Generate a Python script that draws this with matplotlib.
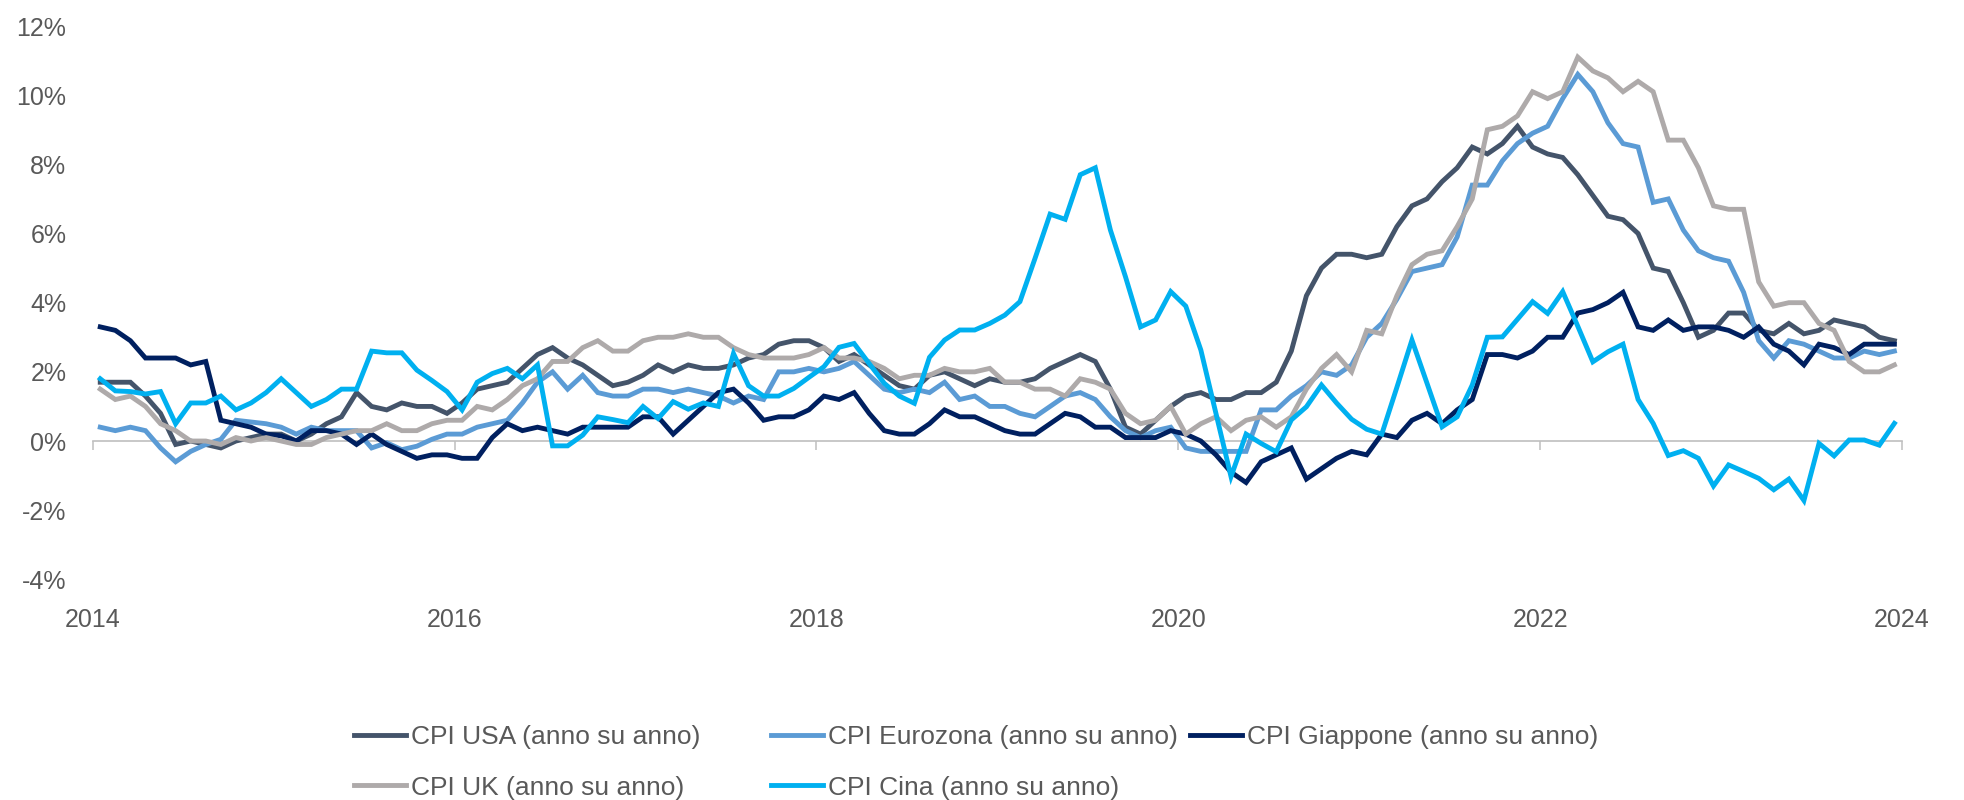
import numpy as np
import matplotlib
matplotlib.use("Agg")
import matplotlib.pyplot as plt

# monthly y/y inflation, Aug 2014 .. Jul 2024 (120 points)
usa = [1.7, 1.7, 1.7, 1.3, 0.8,
       -0.1, 0.0, -0.1, -0.2, 0.0, 0.1, 0.2, 0.2, 0.0, 0.2, 0.5, 0.7,
       1.4, 1.0, 0.9, 1.1, 1.0, 1.0, 0.8, 1.1, 1.5, 1.6, 1.7, 2.1,
       2.5, 2.7, 2.4, 2.2, 1.9, 1.6, 1.7, 1.9, 2.2, 2.0, 2.2, 2.1,
       2.1, 2.2, 2.4, 2.5, 2.8, 2.9, 2.9, 2.7, 2.3, 2.5, 2.2, 1.9,
       1.6, 1.5, 1.9, 2.0, 1.8, 1.6, 1.8, 1.7, 1.7, 1.8, 2.1, 2.3,
       2.5, 2.3, 1.5, 0.4, 0.2, 0.6, 1.0, 1.3, 1.4, 1.2, 1.2, 1.4,
       1.4, 1.7, 2.6, 4.2, 5.0, 5.4, 5.4, 5.3, 5.4, 6.2, 6.8, 7.0,
       7.5, 7.9, 8.5, 8.3, 8.6, 9.1, 8.5, 8.3, 8.2, 7.7, 7.1, 6.5,
       6.4, 6.0, 5.0, 4.9, 4.0, 3.0, 3.2, 3.7, 3.7, 3.2, 3.1, 3.4,
       3.1, 3.2, 3.5, 3.4, 3.3, 3.0, 2.9]

eurozona = [0.4, 0.3, 0.4, 0.3, -0.2,
            -0.6, -0.3, -0.1, 0.05, 0.6, 0.55, 0.5, 0.4, 0.2, 0.4, 0.3, 0.3,
            0.3, -0.2, -0.05, -0.25, -0.15, 0.05, 0.2, 0.2, 0.4, 0.5, 0.6, 1.1,
            1.7, 2.0, 1.5, 1.9, 1.4, 1.3, 1.3, 1.5, 1.5, 1.4, 1.5, 1.4,
            1.3, 1.1, 1.3, 1.2, 2.0, 2.0, 2.1, 2.0, 2.1, 2.3, 1.9, 1.5,
            1.4, 1.5, 1.4, 1.7, 1.2, 1.3, 1.0, 1.0, 0.8, 0.7, 1.0, 1.3,
            1.4, 1.2, 0.7, 0.3, 0.1, 0.3, 0.4, -0.2, -0.3, -0.3, -0.3, -0.3,
            0.9, 0.9, 1.3, 1.6, 2.0, 1.9, 2.2, 3.0, 3.4, 4.1, 4.9, 5.0,
            5.1, 5.9, 7.4, 7.4, 8.1, 8.6, 8.9, 9.1, 9.9, 10.6, 10.1, 9.2,
            8.6, 8.5, 6.9, 7.0, 6.1, 5.5, 5.3, 5.2, 4.3, 2.9, 2.4, 2.9,
            2.8, 2.6, 2.4, 2.4, 2.6, 2.5, 2.6]

giappone = [3.3, 3.2, 2.9, 2.4, 2.4,
            2.4, 2.2, 2.3, 0.6, 0.5, 0.4, 0.2, 0.15, 0.0, 0.3, 0.3, 0.2,
            -0.1, 0.2, -0.1, -0.3, -0.5, -0.4, -0.4, -0.5, -0.5, 0.1, 0.5, 0.3,
            0.4, 0.3, 0.2, 0.4, 0.4, 0.4, 0.4, 0.7, 0.7, 0.2, 0.6, 1.0,
            1.4, 1.5, 1.1, 0.6, 0.7, 0.7, 0.9, 1.3, 1.2, 1.4, 0.8, 0.3,
            0.2, 0.2, 0.5, 0.9, 0.7, 0.7, 0.5, 0.3, 0.2, 0.2, 0.5, 0.8,
            0.7, 0.4, 0.4, 0.1, 0.1, 0.1, 0.3, 0.2, 0.0, -0.4, -0.9, -1.2,
            -0.6, -0.4, -0.2, -1.1, -0.8, -0.5, -0.3, -0.4, 0.2, 0.1, 0.6, 0.8,
            0.5, 0.9, 1.2, 2.5, 2.5, 2.4, 2.6, 3.0, 3.0, 3.7, 3.8, 4.0,
            4.3, 3.3, 3.2, 3.5, 3.2, 3.3, 3.3, 3.2, 3.0, 3.3, 2.8, 2.6,
            2.2, 2.8, 2.7, 2.5, 2.8, 2.8, 2.8]

uk = [1.5, 1.2, 1.3, 1.0, 0.5,
      0.3, 0.0, 0.0, -0.1, 0.1, 0.0, 0.1, 0.0, -0.1, -0.1, 0.1, 0.2,
      0.3, 0.3, 0.5, 0.3, 0.3, 0.5, 0.6, 0.6, 1.0, 0.9, 1.2, 1.6,
      1.8, 2.3, 2.3, 2.7, 2.9, 2.6, 2.6, 2.9, 3.0, 3.0, 3.1, 3.0,
      3.0, 2.7, 2.5, 2.4, 2.4, 2.4, 2.5, 2.7, 2.4, 2.4, 2.3, 2.1,
      1.8, 1.9, 1.9, 2.1, 2.0, 2.0, 2.1, 1.7, 1.7, 1.5, 1.5, 1.3,
      1.8, 1.7, 1.5, 0.8, 0.5, 0.6, 1.0, 0.2, 0.5, 0.7, 0.3, 0.6,
      0.7, 0.4, 0.7, 1.5, 2.1, 2.5, 2.0, 3.2, 3.1, 4.2, 5.1, 5.4,
      5.5, 6.2, 7.0, 9.0, 9.1, 9.4, 10.1, 9.9, 10.1, 11.1, 10.7, 10.5,
      10.1, 10.4, 10.1, 8.7, 8.7, 7.9, 6.8, 6.7, 6.7, 4.6, 3.9, 4.0,
      4.0, 3.4, 3.2, 2.3, 2.0, 2.0, 2.2]

cina = [1.8, 1.45, 1.43, 1.36, 1.43,
        0.5, 1.1, 1.1, 1.3, 0.9, 1.1, 1.4, 1.8, 1.4, 1.0, 1.2, 1.5,
        1.5, 2.6, 2.55, 2.55, 2.05, 1.75, 1.43, 0.9, 1.7, 1.95, 2.1, 1.8,
        2.2, -0.14, -0.14, 0.17, 0.7, 0.62, 0.53, 1.0, 0.65, 1.14, 0.92, 1.1,
        1.0, 2.53, 1.6, 1.3, 1.3, 1.52, 1.84, 2.15, 2.71, 2.82, 2.24, 1.67,
        1.3, 1.09, 2.42, 2.92, 3.21, 3.21, 3.4, 3.64, 4.03, 5.28, 6.56, 6.41,
        7.7, 7.9, 6.1, 4.75, 3.3, 3.5, 4.32, 3.9, 2.63, 0.8, -1.03, 0.2,
        -0.07, -0.31, 0.61, 0.99, 1.62, 1.1, 0.63, 0.34, 0.2, 1.55, 2.92, 1.67,
        0.41, 0.7, 1.62, 3.0, 3.01, 3.52, 4.03, 3.69, 4.32, 3.32, 2.29, 2.58,
        2.8, 1.2, 0.51, -0.42, -0.28, -0.5, -1.3, -0.69, -0.88, -1.08, -1.41, -1.1,
        -1.72, -0.07, -0.43, 0.03, 0.03, -0.12, 0.51]

year_labels = ["2014", "2016", "2018", "2020", "2022", "2024"]
y_ticks = [-4, -2, 0, 2, 4, 6, 8, 10, 12]

series = [
    ("CPI USA (anno su anno)", usa, "#44546A"),
    ("CPI Eurozona (anno su anno)", eurozona, "#5B9BD5"),
    ("CPI Giappone (anno su anno)", giappone, "#002060"),
    ("CPI UK (anno su anno)", uk, "#AEAAAA"),
    ("CPI Cina (anno su anno)", cina, "#00B0F0"),
]

plt.rcParams["font.family"] = ["Liberation Sans", "DejaVu Sans"]
text_col = "#595959"
axis_col = "#BFBFBF"

fig = plt.figure(figsize=(19.64, 8), dpi=100)
ax = fig.add_axes([0.0472, 0.2758, 0.9212, 0.6917])

x = np.arange(len(usa)) + 0.5
handles = {}
for name, vals, col in series:
    h, = ax.plot(x, vals, color=col, lw=3.5, zorder=3, label=name,
                 solid_joinstyle="miter")
    handles[name] = h

ax.set_xlim(0, len(usa))
ax.set_ylim(-4, 12)
ax.set_xticks(np.arange(0, len(usa) + 1, 24))
ax.set_xticklabels(year_labels)
ax.set_yticks(y_ticks)
ax.set_yticklabels([f"{v}%" for v in y_ticks])

for s in ["top", "right", "left"]:
    ax.spines[s].set_visible(False)
ax.spines["bottom"].set_position(("data", 0))
ax.spines["bottom"].set_color(axis_col)
ax.spines["bottom"].set_linewidth(1.2)
ax.tick_params(axis="x", direction="out", length=6.3, width=1.1, color=axis_col,
               labelsize=18, labelcolor=text_col, pad=114)
ax.tick_params(axis="y", length=0, labelsize=18, labelcolor=text_col, pad=19)

leg_kw = dict(loc="upper left", frameon=False, fontsize=19, handlelength=1.97,
              handletextpad=0.2, labelspacing=1.02, borderpad=0, borderaxespad=0,
              labelcolor=text_col)
names = [s[0] for s in series]
fig.legend(handles=[handles[names[0]], handles[names[3]]], bbox_to_anchor=(0.1802, 0.094), **leg_kw)
fig.legend(handles=[handles[names[1]], handles[names[4]]], bbox_to_anchor=(0.3926, 0.094), **leg_kw)
fig.legend(handles=[handles[names[2]]], bbox_to_anchor=(0.6059, 0.094), **leg_kw)

fig.savefig("out.png", dpi=100)
